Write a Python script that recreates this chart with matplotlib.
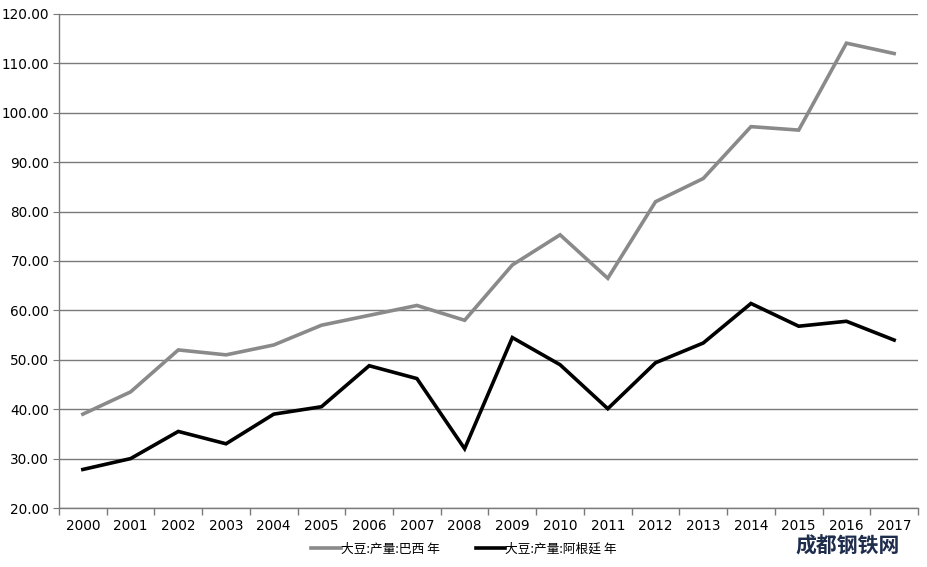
import matplotlib
matplotlib.use("Agg")
import matplotlib.pyplot as plt
from matplotlib.ticker import FixedLocator, NullFormatter

plt.rcParams['font.family'] = ['Noto Sans CJK SC', 'DejaVu Sans']

years = [str(y) for y in range(2000, 2018)]
brazil = [39.0, 43.5, 52.0, 51.0, 53.0, 57.0, 59.0, 61.0, 58.0, 69.2, 75.3, 66.5,
          82.0, 86.7, 97.2, 96.5, 114.1, 112.0]
argentina = [27.8, 30.0, 35.5, 33.0, 39.0, 40.5, 48.8, 46.2, 32.0, 54.5, 49.0, 40.1,
             49.4, 53.4, 61.4, 56.8, 57.8, 54.0]
label_brazil = "大豆:产量:巴西 年"
label_argentina = "大豆:产量:阿根廷 年"
yticks = [20, 30, 40, 50, 60, 70, 80, 90, 100, 110, 120]

fig = plt.figure(figsize=(9.28, 5.67), dpi=100)
ax = fig.add_axes([59/928, 1-508/567, (918-59)/928, (508-14)/567])

x = list(range(len(years)))
ax.plot(x, brazil, color='#8a8a8a', lw=2.6, label=label_brazil, solid_joinstyle='miter')
ax.plot(x, argentina, color='#000000', lw=2.6, label=label_argentina, solid_joinstyle='miter')

ax.set_xlim(-0.5, len(years) - 0.5)
ax.set_ylim(20, 120)
ax.set_yticks(yticks)
ax.set_yticklabels([f"{v:.2f}" for v in yticks], fontsize=9.8, family='DejaVu Sans')
ax.yaxis.grid(True, color='#7a7a7a', lw=1)
ax.set_axisbelow(True)
ax.tick_params(axis='y', length=4, color='#7a7a7a', pad=3)

ax.set_xticks(x)
ax.set_xticklabels(years, fontsize=9.8, family='DejaVu Sans')
ax.tick_params(axis='x', which='major', length=0, pad=8)
ax.xaxis.set_minor_locator(FixedLocator([i - 0.5 for i in range(len(years) + 1)]))
ax.xaxis.set_minor_formatter(NullFormatter())
ax.tick_params(axis='x', which='minor', length=5, color='#7a7a7a', width=1)

for s in ['top', 'right']:
    ax.spines[s].set_visible(False)
for s in ['left', 'bottom']:
    ax.spines[s].set_color('#7a7a7a')
    ax.spines[s].set_linewidth(1)

leg = fig.legend(loc='center', bbox_to_anchor=(0.5, 1-549/567), ncol=2, frameon=False,
                 fontsize=9.2, handlelength=2.3, handletextpad=0.0, columnspacing=2.8)

fig.text(795/928, 1-546/567, "成都钢铁网", fontsize=15, color='#1f2d4d',
         fontweight='bold', va='center', ha='left')

fig.savefig("out.png", dpi=100)
